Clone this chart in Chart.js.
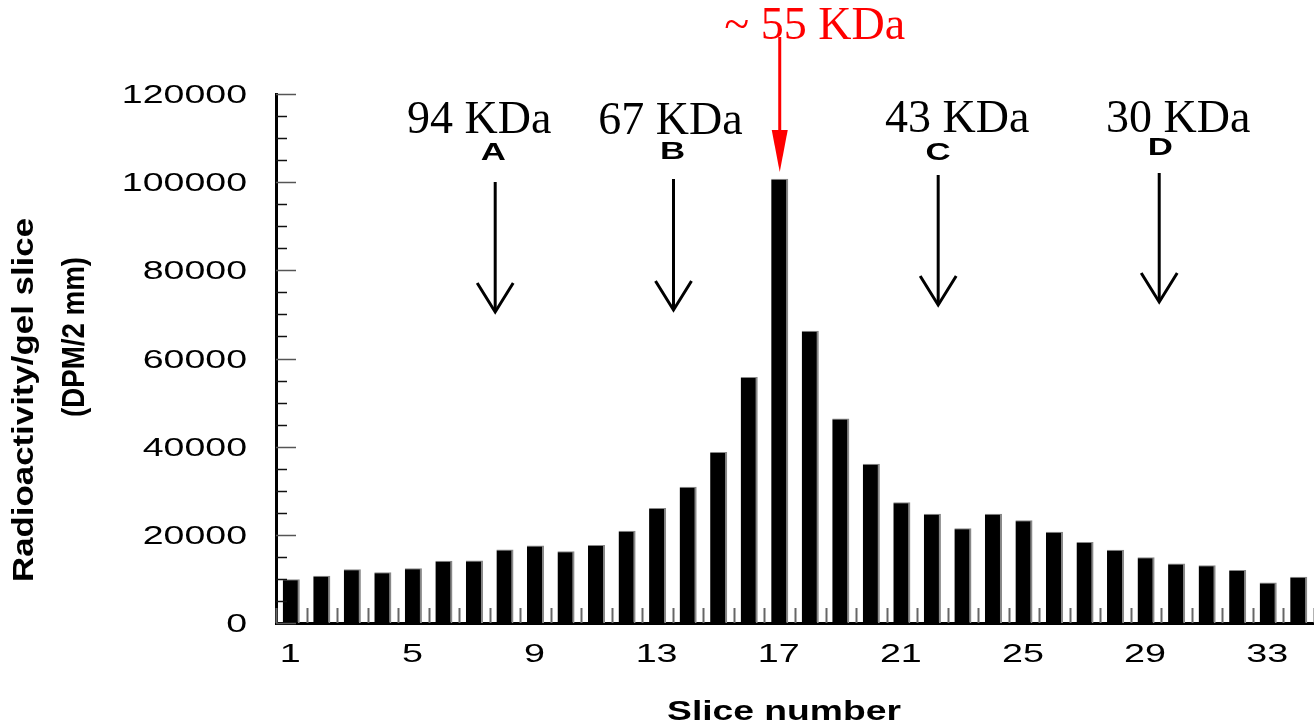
<!DOCTYPE html>
<html lang="en">
<head>
<meta charset="UTF-8">
<title>Radioactivity per gel slice</title>
<script src="https://cdn.jsdelivr.net/npm/chart.js"></script>
<style>
  html, body { margin: 0; padding: 0; background: #fff; }
  #wrap { width: 1314px; height: 723px; }
</style>
</head>
<body>
<div id="wrap"><canvas id="myChart"></canvas></div>
<script>
// data
const slices = ['1','2','3','4','5','6','7','8','9','10','11','12','13','14','15','16','17',
                '18','19','20','21','22','23','24','25','26','27','28','29','30','31','32','33','34'];
const dpm = [9900, 10700, 12200, 11500, 12400, 14100, 14200, 16700, 17600, 16300, 17700,
             20900, 26100, 30900, 38800, 55800, 100800, 66300, 46400, 36100, 27400, 24800,
             21500, 24800, 23300, 20700, 18400, 16600, 14900, 13500, 13100, 12000, 9200, 10500];
const xTickLabels = ['1','5','9','13','17','21','25','29','33'];
const yTickValues = [0, 20000, 40000, 60000, 80000, 100000, 120000];
const yMinorStep = 5000;

// molecular weight markers (position in slice units)
const markerNames = ['94 KDa', '67 KDa', '43 KDa', '30 KDa'];
const markerLetters = ['A', 'B', 'C', 'D'];
const markerSlices = [7.68, 13.52, 22.19, 29.43];
const peakLabel = '~ 55 KDa';
const peakSlice = 17;

const xTitle = 'Slice number';
const yTitle = ['Radioactivity/gel slice', '(DPM/2 mm)'];

const SANS = '"Liberation Sans", Arial, sans-serif';
const SERIF = '"Liberation Serif", "Times New Roman", serif';

// text in the figure is stretched sideways, so draw it through a scaled context
function stretchText(ctx, text, x, y, font, sx, align, color) {
    ctx.save();
    ctx.translate(x, y);
    ctx.scale(sx, 1);
    ctx.font = font;
    ctx.fillStyle = color || '#000';
    ctx.textAlign = align || 'center';
    ctx.textBaseline = 'alphabetic';
    ctx.fillText(text, 0, 0);
    ctx.restore();
}

function line(ctx, x1, y1, x2, y2, w, color) {
    ctx.beginPath();
    ctx.moveTo(x1, y1);
    ctx.lineTo(x2, y2);
    ctx.lineWidth = w;
    ctx.strokeStyle = color;
    ctx.stroke();
}

const decor = {
    id: 'decor',
    afterDraw(chart) {
        const ctx = chart.ctx;
        const xs = chart.scales.x;
        const ys = chart.scales.y;
        const area = chart.chartArea;
        ctx.save();
        ctx.lineCap = 'butt';

        // y ticks pointing inward
        for (let v = 0; v <= ys.max; v += yMinorStep) {
            const y = Math.round(ys.getPixelForValue(v)) + 0.5;
            const major = yTickValues.includes(v);
            line(ctx, area.left, y, area.left + (major ? 20 : 11), y, 1.5, major ? '#555' : '#111');
        }
        // x ticks between bars
        for (let i = 0; i <= slices.length; i++) {
            const x = Math.round(xs.getPixelForValue(i - 0.5)) + 0.5;
            line(ctx, x, area.bottom, x, area.bottom - 15, 2, '#666');
        }

        // y tick labels
        yTickValues.forEach(v => {
            stretchText(ctx, String(v), 247, ys.getPixelForValue(v) + 9, '25px ' + SANS, 1.5, 'right');
        });
        // x tick labels
        xTickLabels.forEach(lab => {
            const x = xs.getPixelForValue(slices.indexOf(lab));
            stretchText(ctx, lab, x - 1, 662, '26px ' + SANS, 1.45, 'center');
        });

        // axis titles
        stretchText(ctx, xTitle, 784, 720, 'bold 28px ' + SANS, 1.33, 'center');
        const yTitlePos = [[33, 400, 364, 29], [84, 337, 160, 32]];
        yTitle.forEach((t, i) => {
            const p = yTitlePos[i];
            ctx.save();
            ctx.translate(p[0], p[1]);
            ctx.rotate(-Math.PI / 2);
            ctx.font = 'bold ' + p[3] + 'px ' + SANS;
            const w = ctx.measureText(t).width;
            ctx.scale(p[2] / w, 1);
            ctx.fillStyle = '#000';
            ctx.textAlign = 'center';
            ctx.textBaseline = 'alphabetic';
            ctx.fillText(t, 0, 0);
            ctx.restore();
        });

        // marker arrows A-D
        const nameDx = [-16, -3, 19, 19];
        const nameY = [133, 134, 132, 132];
        const letterDx = [-2, -1, 0, 1];
        const letterY = [160, 159, 160, 155];
        const arrowTop = [182, 179, 175, 173];
        const arrowTip = [312, 310, 305, 302];
        markerSlices.forEach((s, i) => {
            const x = xs.getPixelForValue(s - 1);
            stretchText(ctx, markerNames[i], x + nameDx[i], nameY[i], '46px ' + SERIF, 1, 'center');
            stretchText(ctx, markerLetters[i], x + letterDx[i], letterY[i], 'bold 24px ' + SANS, 1.45, 'center');
            line(ctx, x, arrowTop[i], x, arrowTip[i] - 2, 3, '#000');
            ctx.beginPath();
            ctx.moveTo(x - 18, arrowTip[i] - 29);
            ctx.lineTo(x, arrowTip[i]);
            ctx.lineTo(x + 18, arrowTip[i] - 29);
            ctx.lineWidth = 3;
            ctx.strokeStyle = '#000';
            ctx.lineJoin = 'miter';
            ctx.stroke();
        });

        // red arrow for the peak
        const px = xs.getPixelForValue(peakSlice - 1);
        stretchText(ctx, peakLabel, px + 35, 39, '46px ' + SERIF, 1, 'center', '#ff0000');
        line(ctx, px, 37, px, 132, 3, '#ff0000');
        ctx.beginPath();
        ctx.moveTo(px - 8, 130);
        ctx.lineTo(px + 8, 130);
        ctx.lineTo(px, 172);
        ctx.closePath();
        ctx.fillStyle = '#ff0000';
        ctx.fill();

        ctx.restore();
    }
};

const ctx = document.getElementById('myChart');

const grafico = new Chart(ctx, {
    type: 'bar',
    data: {
        labels: slices,
        datasets: [{
            label: 'Radioactivity (DPM/2 mm)',
            data: dpm,
            backgroundColor: '#000',
            borderColor: '#888',
            borderWidth: { top: 1, right: 2, left: 0, bottom: 0 },
            borderSkipped: false,
            barPercentage: 0.56,
            categoryPercentage: 1
        }]
    },
    options: {
        responsive: true,
        maintainAspectRatio: false,
        animation: false,
        layout: { padding: { top: 94, left: 0, right: 0, bottom: 0 } },
        plugins: {
            legend: { display: false },
            tooltip: { enabled: false }
        },
        scales: {
            x: {
                offset: true,
                grid: { display: false },
                ticks: { display: false },
                border: { display: true, color: '#000', width: 3 },
                afterFit(scale) { scale.height = 100; }
            },
            y: {
                min: 0,
                max: 120000,
                grid: { display: false },
                ticks: { display: false },
                border: { display: true, color: '#000', width: 3 },
                afterFit(scale) { scale.width = 276; }
            }
        }
    },
    plugins: [decor]
});
</script>
</body>
</html>
